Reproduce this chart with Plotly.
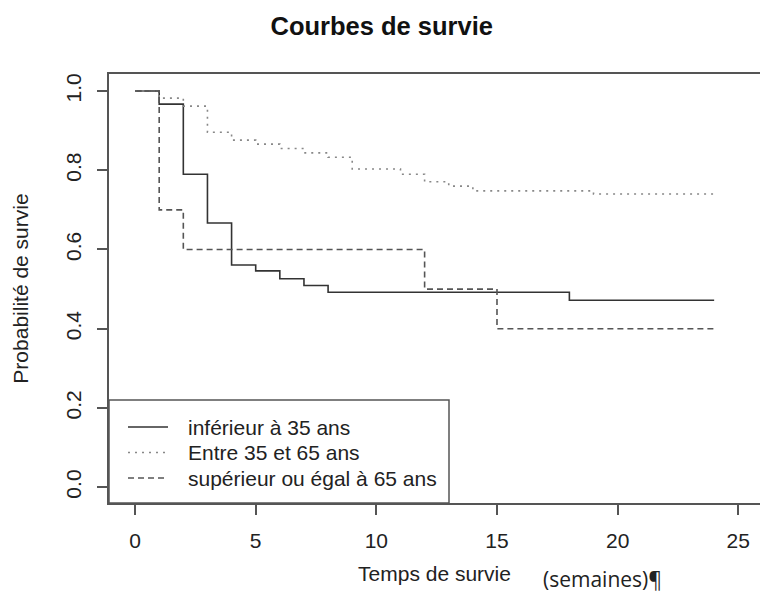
import plotly.graph_objects as go

# ---- data ----
t_young = [0, 1, 2, 3, 4, 5, 6, 7, 8, 18, 24]
s_young = [1.0, 0.967, 0.79, 0.667, 0.561, 0.546, 0.526, 0.509, 0.492, 0.472, 0.472]

t_mid = [0, 1, 2, 3, 4, 5, 6, 7, 8, 9, 11, 12, 13, 14, 19, 24]
s_mid = [1.0, 0.982, 0.962, 0.896, 0.876, 0.866, 0.855, 0.844, 0.833, 0.803,
         0.790, 0.771, 0.760, 0.748, 0.740, 0.740]

t_old = [0, 1, 2, 12, 15, 24]
s_old = [1.0, 0.70, 0.60, 0.50, 0.40, 0.40]

names = ["inférieur à 35 ans", "Entre 35 et 65 ans", "supérieur ou égal à 65 ans"]
x_ticks = [0, 5, 10, 15, 20, 25]
y_ticks = [0.0, 0.2, 0.4, 0.6, 0.8, 1.0]

FONT = "Liberation Sans, Arial, sans-serif"
AX = "#555555"
styles = [
    dict(color="#333333", width=1.6, dash="solid"),
    dict(color="#888888", width=1.6, dash="2px,5px"),
    dict(color="#555555", width=1.6, dash="6px,4px"),
]

fig = go.Figure()
for tx, sy, nm, st in [(t_young, s_young, names[0], styles[0]),
                       (t_mid, s_mid, names[1], styles[1]),
                       (t_old, s_old, names[2], styles[2])]:
    fig.add_trace(go.Scatter(x=tx, y=sy, mode="lines", name=nm,
                             line=dict(shape="hv", **st)))

W, H = 760, 608
L, R, T, B = 109, 0, 74, 105
pw, ph = W - L - R, H - T - B


def px_x(p):
    return (p - L) / pw


def px_y(p):
    return (H - B - p) / ph


# legend box drawn by hand to match the reference layout
shapes = [dict(type="rect", xref="paper", yref="paper", x0=0, x1=px_x(449),
               y0=0, y1=px_y(400), line=dict(color=AX, width=1.5),
               fillcolor="white", layer="below")]
annotations = []
for i, (nm, st) in enumerate(zip(names, styles)):
    yy = px_y(427 + i * 25.5)
    shapes.append(dict(type="line", xref="paper", yref="paper", x0=px_x(128), x1=px_x(168),
                       y0=yy, y1=yy, line=dict(color=st["color"], width=st["width"],
                                               dash=st["dash"])))
    annotations.append(dict(text=nm, xref="paper", yref="paper", x=px_x(186), y=yy,
                            xanchor="left", yanchor="middle", showarrow=False,
                            font=dict(size=21, color="#222222")))

annotations.append(dict(text="(semaines)¶", xref="paper", yref="paper",
                        x=px_x(602), y=px_y(579), xanchor="center", yanchor="middle",
                        showarrow=False,
                        font=dict(family="Open Sans, sans-serif", size=21, color="#222222")))

fig.update_layout(
    width=W, height=H,
    margin=dict(l=L, r=R, t=T, b=B, autoexpand=False),
    paper_bgcolor="white", plot_bgcolor="white",
    font=dict(family=FONT, size=21, color="#222222"),
    title=dict(text="<b>Courbes de survie</b>", x=px_x(436), xanchor="center",
               y=1 - 26 / H, yanchor="middle", font=dict(size=25.5, color="#111111")),
    showlegend=False,
    xaxis=dict(range=[-1.08, 25.9], tickvals=x_ticks, ticktext=[str(v) for v in x_ticks],
               showgrid=False, zeroline=False, showline=True, mirror=True, automargin=False,
               linecolor=AX, linewidth=1.5, ticks="outside", ticklen=10, tickwidth=1.5,
               tickcolor=AX, ticklabelstandoff=8,
               title=dict(text="Temps de survie", standoff=15, font=dict(size=21))),
    yaxis=dict(range=[-0.04, 1.043], tickvals=y_ticks, ticktext=[f"{v:.1f}" for v in y_ticks],
               tickangle=-90, showgrid=False, zeroline=False, showline=True, mirror=False,
               automargin=False,
               linecolor=AX, linewidth=1.5, ticks="outside", ticklen=10, tickwidth=1.5,
               tickcolor=AX, ticklabelstandoff=8,
               title=dict(text="Probabilité de survie", standoff=27, font=dict(size=21))),
    shapes=shapes,
    annotations=annotations,
)

fig.write_html("out.html", config={"displayModeBar": False},
               post_script="document.body.style.margin='0';document.body.style.padding='0';")
